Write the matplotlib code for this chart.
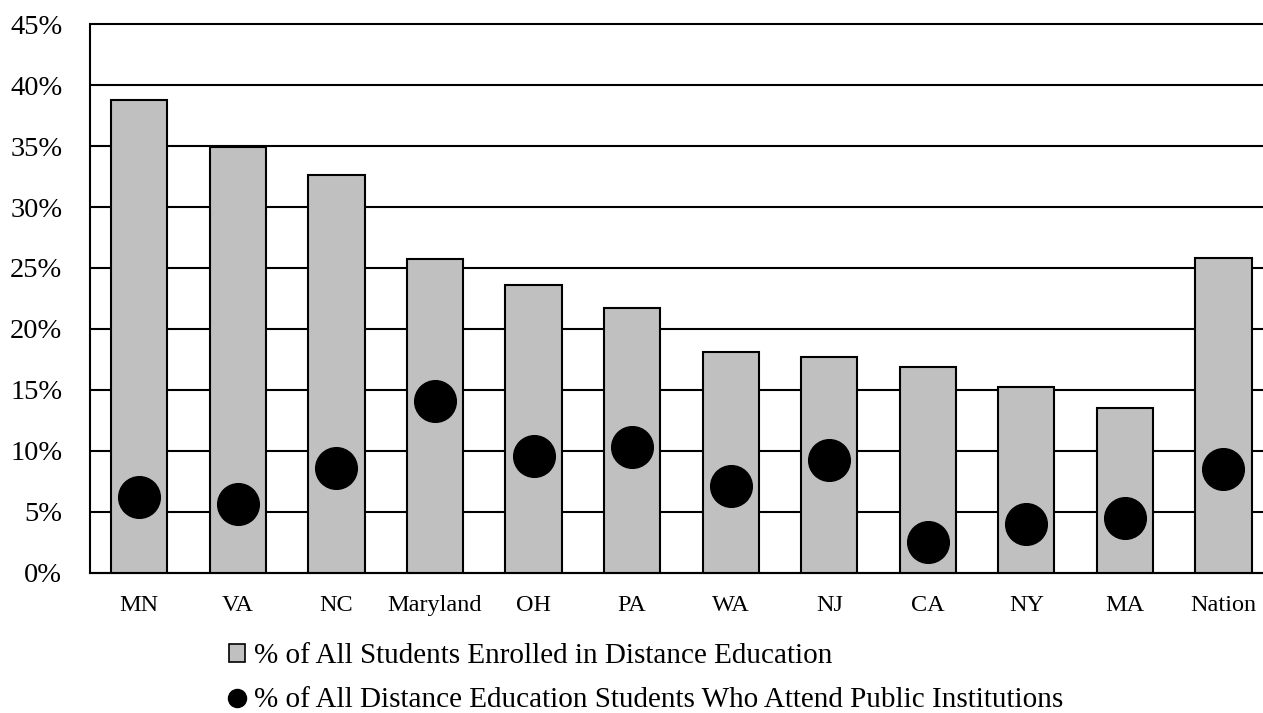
import matplotlib.pyplot as plt
from matplotlib.patches import Patch
from matplotlib.lines import Line2D
from matplotlib.ticker import MultipleLocator, PercentFormatter

states = ['MN', 'VA', 'NC', 'Maryland', 'OH', 'PA', 'WA', 'NJ', 'CA', 'NY', 'MA', 'Nation']
pct_enrolled = [38.8, 34.9, 32.6, 25.7, 23.6, 21.7, 18.1, 17.7, 16.9, 15.2, 13.5, 25.8]
pct_public = [6.2, 5.6, 8.6, 14.1, 9.6, 10.3, 7.1, 9.2, 2.5, 4.0, 4.5, 8.5]

label_bar = '% of All Students Enrolled in Distance Education'
label_dot = '% of All Distance Education Students Who Attend Public Institutions'

plt.rcParams['font.family'] = ['Liberation Serif', 'DejaVu Serif']

fig = plt.figure(figsize=(12.63, 7.13), dpi=100)
# axes runs slightly past the right edge of the figure
ax = fig.add_axes([0.0713, 0.197, 0.9364, 0.769])

x = list(range(len(states)))
ax.bar(x, pct_enrolled, width=0.57, color='#c0c0c0', edgecolor='black',
       linewidth=1.5, zorder=2)
ax.plot(x, pct_public, linestyle='none', marker='o', ms=30, color='black',
        zorder=3)

ax.set_xlim(-0.5, len(states) - 0.5)
ax.set_ylim(0, 45)
ax.yaxis.set_major_locator(MultipleLocator(5))
ax.yaxis.set_major_formatter(PercentFormatter(decimals=0))
ax.set_xticks(x)
ax.set_xticklabels(states, fontsize=17.5)
ax.tick_params(axis='y', labelsize=20.5, length=0, pad=20)
ax.tick_params(axis='x', length=0, pad=16)

# horizontal gridlines, not clipped so the top one keeps full width
ax.hlines(ax.get_yticks()[1:], -0.5, len(states) - 0.5, colors='black',
          linewidth=1.5, zorder=1, clip_on=False)
for side in ['top', 'right']:
    ax.spines[side].set_visible(False)
for side in ['left', 'bottom']:
    ax.spines[side].set_linewidth(1.5)
    ax.spines[side].set_zorder(4)

handles = [
    Patch(facecolor='#c0c0c0', edgecolor='black', linewidth=1.2),
    Line2D([], [], linestyle='none', marker='o', ms=13, color='black'),
]
fig.legend(handles, [label_bar, label_dot], loc='upper left',
           bbox_to_anchor=(0.1813, 0.098), frameon=False, fontsize=21,
           handlelength=0.55, handleheight=0.55, handletextpad=0.3,
           labelspacing=0.62, borderpad=0, borderaxespad=0)

fig.savefig('out.png', dpi=100)
